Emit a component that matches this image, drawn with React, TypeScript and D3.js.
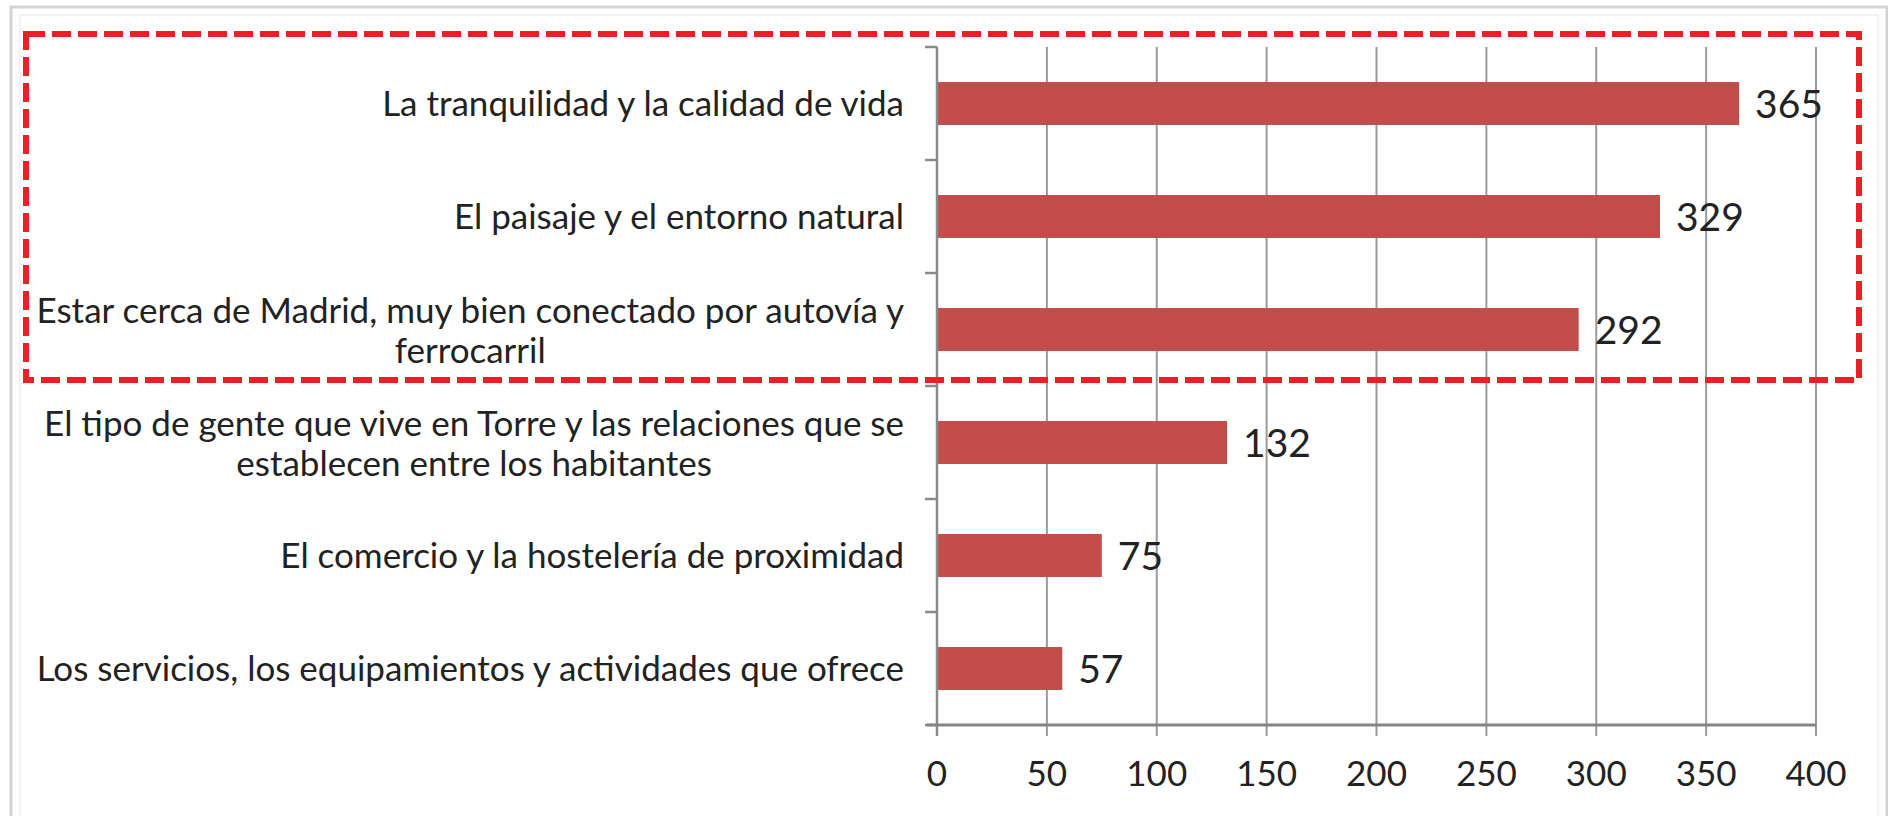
import React, { useEffect, useRef } from "react";
import * as d3 from "d3";

const categories: string[][] = [
  ["La tranquilidad y la calidad de vida"],
  ["El paisaje y el entorno natural"],
  ["Estar cerca de Madrid, muy bien conectado por autovía y", "ferrocarril"],
  ["El tipo de gente que vive en Torre y las relaciones que se", "establecen entre los habitantes"],
  ["El comercio y la hostelería de proximidad"],
  ["Los servicios, los equipamientos y actividades que ofrece"],
];
const values: number[] = [365, 329, 292, 132, 75, 57];
const xTicks: number[] = [0, 50, 100, 150, 200, 250, 300, 350, 400];

const W = 1888;
const H = 816;
const FONT = "Lato, 'Open Sans', sans-serif";

export default function App() {
  const ref = useRef<SVGSVGElement | null>(null);

  useEffect(() => {
    const svg = d3.select(ref.current);
    svg.selectAll("*").remove();

    const left = 937, right = 1816, top = 47, bottom = 725;
    const x = d3.scaleLinear().domain([0, 400]).range([left, right]);
    const idx = categories.map((_, i) => String(i));
    const y = d3.scaleBand<string>().domain(idx).range([top, bottom]).paddingInner(0.62).paddingOuter(0.31);
    const step = y.step();

    svg.append("rect").attr("x", 0).attr("y", 0).attr("width", W).attr("height", H).attr("fill", "#ffffff");
    // outer frame
    svg.append("rect").attr("x", 11).attr("y", 7).attr("width", 1876).attr("height", 830)
      .attr("fill", "none").attr("stroke", "#d3d3d3").attr("stroke-width", 3);
    svg.append("rect").attr("x", 20).attr("y", 15).attr("width", 1858).attr("height", 820)
      .attr("fill", "none").attr("stroke", "#f0f0f0").attr("stroke-width", 1.5);

    // gridlines
    svg.append("g").selectAll("line").data(xTicks.slice(1)).join("line")
      .attr("x1", d => x(d)).attr("x2", d => x(d))
      .attr("y1", top).attr("y2", bottom + 11)
      .attr("stroke", "#9a9a9a").attr("stroke-width", 2);

    // bars
    svg.append("g").selectAll("rect").data(values).join("rect")
      .attr("x", x(0)).attr("y", (_, i) => y(String(i)) as number)
      .attr("width", d => x(d) - x(0)).attr("height", y.bandwidth())
      .attr("fill", "#c24d4b");

    // y axis
    svg.append("line").attr("x1", left).attr("x2", left).attr("y1", top).attr("y2", bottom + 11)
      .attr("stroke", "#8a8a8a").attr("stroke-width", 2.5);
    const bounds = d3.range(categories.length + 1).map(i => top + i * step);
    svg.append("g").selectAll("line").data(bounds).join("line")
      .attr("x1", left - 12).attr("x2", left).attr("y1", d => d).attr("y2", d => d)
      .attr("stroke", "#8a8a8a").attr("stroke-width", 2.5);

    // x axis
    svg.append("line").attr("x1", left - 10).attr("x2", right).attr("y1", bottom).attr("y2", bottom)
      .attr("stroke", "#858585").attr("stroke-width", 3);
    svg.append("g").selectAll("text").data(xTicks).join("text")
      .attr("x", d => x(d)).attr("y", 786).attr("text-anchor", "middle")
      .attr("font-family", FONT).attr("font-size", 35).attr("fill", "#222")
      .text(d => String(d));

    // value labels
    svg.append("g").selectAll("text").data(values).join("text")
      .attr("x", d => x(d) + 16).attr("y", (_, i) => (y(String(i)) as number) + y.bandwidth() / 2 + 14)
      .attr("font-family", FONT).attr("font-size", 39).attr("fill", "#222")
      .text(d => String(d));

    // category labels
    const labelRight = 904;
    categories.forEach((lines, i) => {
      const cy = (y(String(i)) as number) + y.bandwidth() / 2;
      const g = svg.append("g");
      const texts = lines.map((ln, j) => {
        const base = lines.length === 1 ? cy + 12 : cy - 7 + j * 40;
        return g.append("text").attr("y", base).attr("text-anchor", "middle")
          .attr("font-family", FONT).attr("font-size", 35).attr("fill", "#222").text(ln);
      });
      const widths = texts.map(t => (t.node() as SVGTextElement).getComputedTextLength());
      const maxW = Math.max(...widths);
      const cx = labelRight - maxW / 2;
      texts.forEach(t => t.attr("x", cx));
    });

    // highlight dashed box
    svg.append("rect").attr("x", 26).attr("y", 34).attr("width", 1833).attr("height", 346)
      .attr("fill", "none").attr("stroke", "#ed1f26").attr("stroke-width", 6)
      .attr("stroke-dasharray", "19 7");
  }, []);

  return (
    <svg ref={ref} width={W} height={H} style={{ position: "absolute", left: 0, top: 0, display: "block" }} />
  );
}
